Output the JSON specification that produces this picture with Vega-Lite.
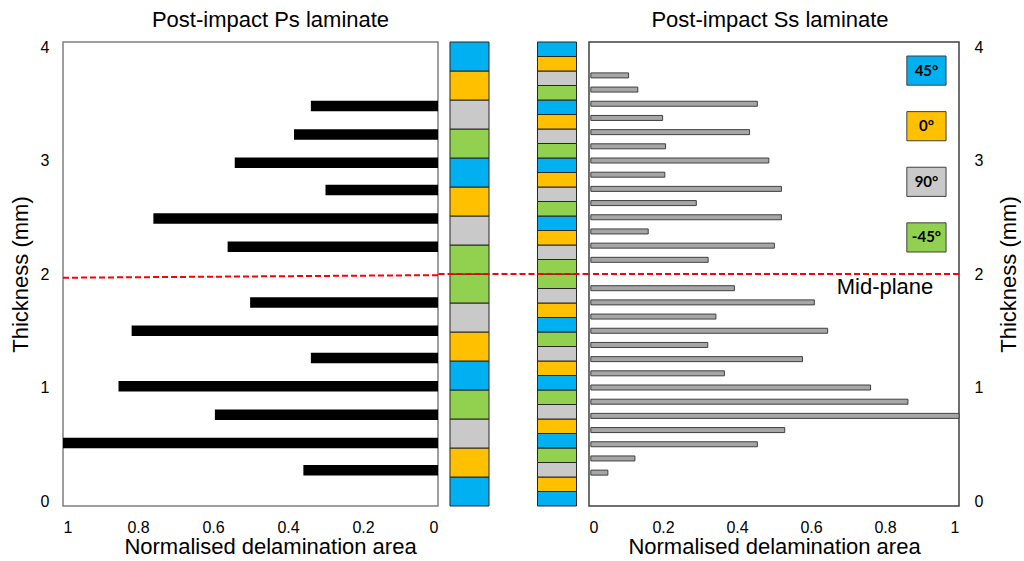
{
  "$schema": "https://vega.github.io/schema/vega-lite/v6.json",
  "background": "white",
  "padding": {"left": 8, "top": 8, "right": 0, "bottom": 0},
  "spacing": 0,
  "bounds": "flush",
  "config": {
    "font": "Liberation Sans",
    "axis": {
      "ticks": false,
      "domain": false,
      "grid": false,
      "labelFontSize": 16,
      "labelColor": "#000000",
      "titleFontSize": 22,
      "titleColor": "#000000",
      "titleFontWeight": "normal"
    },
    "title": {"fontSize": 22, "fontWeight": "normal", "color": "#000000"}
  },
  "datasets": {
    "ps": [
      {"z": 3.48, "area": 0.339},
      {"z": 3.23, "area": 0.384},
      {"z": 2.98, "area": 0.542},
      {"z": 2.74, "area": 0.300},
      {"z": 2.49, "area": 0.759},
      {"z": 2.24, "area": 0.561},
      {"z": 1.75, "area": 0.501},
      {"z": 1.50, "area": 0.817},
      {"z": 1.26, "area": 0.339},
      {"z": 1.01, "area": 0.852},
      {"z": 0.76, "area": 0.595},
      {"z": 0.51, "area": 1.0},
      {"z": 0.27, "area": 0.359}
    ],
    "ss": [
      {"z": 3.75, "area": 0.107},
      {"z": 3.625, "area": 0.132},
      {"z": 3.5, "area": 0.455},
      {"z": 3.375, "area": 0.199},
      {"z": 3.25, "area": 0.434},
      {"z": 3.125, "area": 0.207},
      {"z": 3.0, "area": 0.486},
      {"z": 2.875, "area": 0.205},
      {"z": 2.75, "area": 0.520},
      {"z": 2.625, "area": 0.290},
      {"z": 2.5, "area": 0.520},
      {"z": 2.375, "area": 0.160},
      {"z": 2.25, "area": 0.501},
      {"z": 2.125, "area": 0.322},
      {"z": 1.875, "area": 0.393},
      {"z": 1.75, "area": 0.609},
      {"z": 1.625, "area": 0.343},
      {"z": 1.5, "area": 0.645},
      {"z": 1.375, "area": 0.321},
      {"z": 1.25, "area": 0.577},
      {"z": 1.125, "area": 0.366},
      {"z": 1.0, "area": 0.761},
      {"z": 0.875, "area": 0.862},
      {"z": 0.75, "area": 1.0},
      {"z": 0.625, "area": 0.529},
      {"z": 0.5, "area": 0.455},
      {"z": 0.375, "area": 0.124},
      {"z": 0.25, "area": 0.051}
    ],
    "plies": [
      {"lam": "Ps", "z0": 0.0, "z1": 0.25, "angle": "45°"},
      {"lam": "Ps", "z0": 0.25, "z1": 0.5, "angle": "0°"},
      {"lam": "Ps", "z0": 0.5, "z1": 0.75, "angle": "90°"},
      {"lam": "Ps", "z0": 0.75, "z1": 1.0, "angle": "-45°"},
      {"lam": "Ps", "z0": 1.0, "z1": 1.25, "angle": "45°"},
      {"lam": "Ps", "z0": 1.25, "z1": 1.5, "angle": "0°"},
      {"lam": "Ps", "z0": 1.5, "z1": 1.75, "angle": "90°"},
      {"lam": "Ps", "z0": 1.75, "z1": 2.0, "angle": "-45°"},
      {"lam": "Ps", "z0": 2.0, "z1": 2.25, "angle": "-45°"},
      {"lam": "Ps", "z0": 2.25, "z1": 2.5, "angle": "90°"},
      {"lam": "Ps", "z0": 2.5, "z1": 2.75, "angle": "0°"},
      {"lam": "Ps", "z0": 2.75, "z1": 3.0, "angle": "45°"},
      {"lam": "Ps", "z0": 3.0, "z1": 3.25, "angle": "-45°"},
      {"lam": "Ps", "z0": 3.25, "z1": 3.5, "angle": "90°"},
      {"lam": "Ps", "z0": 3.5, "z1": 3.75, "angle": "0°"},
      {"lam": "Ps", "z0": 3.75, "z1": 4.0, "angle": "45°"},
      {"lam": "Ss", "z0": 0.0, "z1": 0.125, "angle": "45°"},
      {"lam": "Ss", "z0": 0.125, "z1": 0.25, "angle": "0°"},
      {"lam": "Ss", "z0": 0.25, "z1": 0.375, "angle": "90°"},
      {"lam": "Ss", "z0": 0.375, "z1": 0.5, "angle": "-45°"},
      {"lam": "Ss", "z0": 0.5, "z1": 0.625, "angle": "45°"},
      {"lam": "Ss", "z0": 0.625, "z1": 0.75, "angle": "0°"},
      {"lam": "Ss", "z0": 0.75, "z1": 0.875, "angle": "90°"},
      {"lam": "Ss", "z0": 0.875, "z1": 1.0, "angle": "-45°"},
      {"lam": "Ss", "z0": 1.0, "z1": 1.125, "angle": "45°"},
      {"lam": "Ss", "z0": 1.125, "z1": 1.25, "angle": "0°"},
      {"lam": "Ss", "z0": 1.25, "z1": 1.375, "angle": "90°"},
      {"lam": "Ss", "z0": 1.375, "z1": 1.5, "angle": "-45°"},
      {"lam": "Ss", "z0": 1.5, "z1": 1.625, "angle": "45°"},
      {"lam": "Ss", "z0": 1.625, "z1": 1.75, "angle": "0°"},
      {"lam": "Ss", "z0": 1.75, "z1": 1.875, "angle": "90°"},
      {"lam": "Ss", "z0": 1.875, "z1": 2.0, "angle": "-45°"},
      {"lam": "Ss", "z0": 2.0, "z1": 2.125, "angle": "-45°"},
      {"lam": "Ss", "z0": 2.125, "z1": 2.25, "angle": "90°"},
      {"lam": "Ss", "z0": 2.25, "z1": 2.375, "angle": "0°"},
      {"lam": "Ss", "z0": 2.375, "z1": 2.5, "angle": "45°"},
      {"lam": "Ss", "z0": 2.5, "z1": 2.625, "angle": "-45°"},
      {"lam": "Ss", "z0": 2.625, "z1": 2.75, "angle": "90°"},
      {"lam": "Ss", "z0": 2.75, "z1": 2.875, "angle": "0°"},
      {"lam": "Ss", "z0": 2.875, "z1": 3.0, "angle": "45°"},
      {"lam": "Ss", "z0": 3.0, "z1": 3.125, "angle": "-45°"},
      {"lam": "Ss", "z0": 3.125, "z1": 3.25, "angle": "90°"},
      {"lam": "Ss", "z0": 3.25, "z1": 3.375, "angle": "0°"},
      {"lam": "Ss", "z0": 3.375, "z1": 3.5, "angle": "45°"},
      {"lam": "Ss", "z0": 3.5, "z1": 3.625, "angle": "-45°"},
      {"lam": "Ss", "z0": 3.625, "z1": 3.75, "angle": "90°"},
      {"lam": "Ss", "z0": 3.75, "z1": 3.875, "angle": "0°"},
      {"lam": "Ss", "z0": 3.875, "z1": 4.0, "angle": "45°"}
    ],
    "angles": [
      {"angle": "45°"},
      {"angle": "0°"},
      {"angle": "90°"},
      {"angle": "-45°"}
    ],
    "midplane": [{"z": 2}]
  },
  "hconcat": [
    {
      "width": 375,
      "height": 464,
      "view": {"stroke": "#7f7f7f", "strokeWidth": 1.5},
      "title": {"text": "Post-impact Ps laminate", "dx": 20, "offset": 7},
      "layer": [
        {
          "data": {"name": "ps"},
          "mark": {"type": "bar", "orient": "horizontal", "size": 10.5, "color": "#000000"},
          "encoding": {
            "x": {
              "field": "area",
              "type": "quantitative",
              "scale": {"domain": [0, 1], "reverse": true, "nice": false},
              "axis": {
                "values": [0, 0.2, 0.4, 0.6, 0.8, 1],
                "format": "~g",
                "labelPadding": 13,
                "title": "Normalised delamination area",
                "titleX": 207,
                "titlePadding": 1
              }
            },
            "y": {
              "field": "z",
              "type": "quantitative",
              "scale": {"domain": [0, 4], "nice": false},
              "axis": {
                "orient": "left",
                "values": [0, 1, 2, 3, 4],
                "format": "d",
                "labelPadding": 14,
                "title": "Thickness (mm)",
                "titlePadding": 8
              }
            }
          }
        },
        {
          "data": {"values": [{}]},
          "mark": {"type": "rule", "color": "#ff0000", "strokeWidth": 2, "strokeDash": [6, 3]},
          "encoding": {
            "x": {"datum": 1, "type": "quantitative"},
            "x2": {"datum": 0},
            "y": {"datum": 1.967, "type": "quantitative"},
            "y2": {"datum": 1.99}
          }
        }
      ]
    },
    {
      "width": 150.5,
      "height": 464,
      "view": {"stroke": null},
      "layer": [
        {
          "data": {"name": "plies"},
          "mark": {"type": "rect", "stroke": "#262626", "strokeWidth": 1},
          "encoding": {
            "x": {
              "field": "lam",
              "type": "nominal",
              "scale": {"domain": ["Ps", "Ss"], "paddingInner": 0.554, "paddingOuter": 0.137},
              "axis": null
            },
            "y": {"field": "z0", "type": "quantitative", "scale": {"domain": [0, 4], "nice": false}, "axis": null},
            "y2": {"field": "z1"},
            "color": {
              "field": "angle",
              "type": "nominal",
              "scale": {"domain": ["45°", "0°", "90°", "-45°"], "range": ["#00b0f0", "#ffc000", "#c9c9c9", "#92d050"]},
              "legend": null
            }
          }
        },
        {
          "data": {"name": "midplane"},
          "mark": {"type": "rule", "color": "#ff0000", "strokeWidth": 2, "strokeDash": [6, 3]},
          "encoding": {
            "y": {"field": "z", "type": "quantitative", "scale": {"domain": [0, 4], "nice": false}, "axis": null}
          }
        }
      ]
    },
    {
      "width": 370,
      "height": 464,
      "view": {"stroke": "#404040", "strokeWidth": 1.5},
      "title": {"text": "Post-impact Ss laminate", "dx": -4, "offset": 7},
      "resolve": {"scale": {"y": "independent"}},
      "layer": [
        {
          "data": {"name": "ss"},
          "mark": {"type": "bar", "orient": "horizontal", "size": 5, "fill": "#a6a6a6", "stroke": "#404040", "strokeWidth": 1},
          "encoding": {
            "x": {
              "field": "area",
              "type": "quantitative",
              "scale": {"domain": [0, 1], "nice": false},
              "axis": {
                "values": [0, 0.2, 0.4, 0.6, 0.8, 1],
                "format": "~g",
                "labelPadding": 13,
                "title": "Normalised delamination area",
                "titlePadding": 1
              }
            },
            "x2": {"datum": 0.005},
            "y": {
              "field": "z",
              "type": "quantitative",
              "scale": {"domain": [0, 4], "nice": false},
              "axis": {
                "orient": "right",
                "values": [0, 1, 2, 3, 4],
                "format": "d",
                "labelPadding": 15,
                "title": "Thickness (mm)",
                "titleAngle": -90,
                "titleBaseline": "top",
                "titlePadding": 16
              }
            }
          }
        },
        {
          "data": {"name": "midplane"},
          "layer": [
            {
              "mark": {"type": "rule", "color": "#ff0000", "strokeWidth": 2, "strokeDash": [6, 3]},
              "encoding": {
                "y": {"field": "z", "type": "quantitative", "scale": {"domain": [0, 4], "nice": false}, "axis": null}
              }
            },
            {
              "mark": {"type": "text", "text": "Mid-plane", "fontSize": 22, "color": "#000000", "align": "center", "baseline": "middle"},
              "encoding": {
                "x": {"datum": 0.8, "type": "quantitative"},
                "y": {"field": "z", "type": "quantitative", "axis": null},
                "yOffset": {"value": 13}
              }
            }
          ]
        },
        {
          "data": {"name": "angles"},
          "layer": [
            {
              "mark": {"type": "rect", "stroke": "#404040", "strokeWidth": 1},
              "encoding": {
                "x": {"datum": 0.859, "type": "quantitative"},
                "x2": {"datum": 0.965},
                "y": {
                  "field": "angle",
                  "type": "ordinal",
                  "scale": {"domain": ["45°", "0°", "90°", "-45°"], "range": [14, 210], "paddingInner": 0.476, "paddingOuter": 0},
                  "axis": null
                },
                "color": {"field": "angle", "type": "nominal", "legend": null}
              }
            },
            {
              "mark": {"type": "text", "font": "Lato", "fontWeight": "bold", "fontSize": 15, "color": "#000000", "align": "center", "baseline": "middle"},
              "encoding": {
                "x": {"datum": 0.912, "type": "quantitative"},
                "y": {"field": "angle", "type": "ordinal", "axis": null},
                "text": {"field": "angle"}
              }
            }
          ]
        }
      ]
    }
  ]
}
